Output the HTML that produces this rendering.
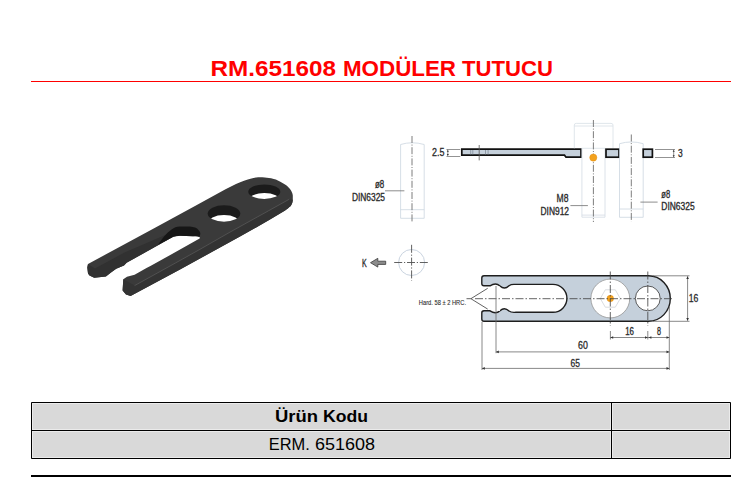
<!DOCTYPE html>
<html><head><meta charset="utf-8">
<style>
html,body{margin:0;padding:0;background:#fff;width:756px;height:502px;overflow:hidden;}
svg{position:absolute;left:0;top:0;}
text{font-family:"Liberation Sans",sans-serif;}
</style></head>
<body>
<svg width="756" height="502" viewBox="0 0 756 502">
<!-- title -->
<g font-size="21.5" font-weight="bold" fill="#ff0000">
<text x="210.5" y="76" textLength="125.5" lengthAdjust="spacingAndGlyphs">RM.651608</text>
<text x="343" y="76" textLength="113" lengthAdjust="spacingAndGlyphs">MODÜLER</text>
<text x="462" y="76" textLength="91" lengthAdjust="spacingAndGlyphs">TUTUCU</text>
</g>
<rect x="31" y="81" width="700" height="1" fill="#ff0000"/>

<!-- ===== part photo ===== -->
<g id="part">
<defs>
<clipPath id="h1"><ellipse cx="264.3" cy="191.7" rx="16" ry="7.3"/></clipPath>
<clipPath id="h2"><ellipse cx="224" cy="213.5" rx="16.3" ry="8.3"/></clipPath>
</defs>
<path fill="#3a3a3a" d="M88,263.9 L125,244.1 L154.6,228 L195,206 L225.5,189.3 L236,184 C241,181.5 245,180 253.5,177.9 C257,177.3 259,177.3 262.3,177.3 C266,177.5 268,177.8 271.1,178.3 C275,179.2 277,180 279.9,181.4 C283,183 285,184.2 286.9,185.8 C289,187.8 290.5,189.5 291.3,191.1 C292.2,193 292.6,194 292.8,195.4 L292.8,199.8 C292.6,202 292.3,203.5 291,205.5 C290,206.8 289,207.5 285.1,210.5 L270,219.6 L240,236.6 L200,258.5 L180,269.5 L130.6,296.1 L126,294.5 L122.6,290.6 L123.3,279.3 L127,276.8 L134.6,274.7 L146.5,268.1 L150.4,266.1 L199.6,238.6 C200.3,237.6 199.5,236.4 197,236 L193,236.2 L179.8,235.7 L173.2,236.8 L126.6,262.8 L124,265.4 L116.2,268.7 L111,272.6 L105.9,276.4 L94.2,277.7 L89.5,275.5 L88,273.5 L87.3,267.5 Z"/>
<path fill="#333" d="M134.6,285.6 L175.8,262.8 L200,249.3 L230,232.1 L268.3,210.9 L289.3,199.2 L292.8,199.8 C292.6,202 292.3,203.5 291,205.5 C290,206.8 289,207.5 285.1,210.5 L270,219.6 L240,236.6 L200,258.5 L180,269.5 L130.6,296.1 L126,294.5 L122.6,290.6 L123.3,279.3 Z"/>
<path fill="#313131" d="M95,268.5 L125,252.2 L175.2,230.7 L173.2,236.8 L126.6,262.8 L124,265.4 L116.2,268.7 L111,272.6 L105.9,276.4 L94.2,277.7 L89.5,275.5 L88,273.5 L87.3,267.5 L88,264 Z"/>
<path fill="#161616" d="M171.9,229.2 C174,227.8 176.5,226.8 179.8,226.6 L189.8,226.6 C194,227 197,228 198.4,229.9 C199.8,231.5 200.5,232.5 200.3,233.9 L199.5,237 C198.5,236.5 196,236.2 193,236.2 L179.8,235.7 C177,235.8 175,236.2 173.2,236.8 L158,244.8 C162,239 166,233 171.9,229.2 Z"/>
<path fill="none" stroke="#5c5c5c" stroke-width="0.7" d="M134.6,285.6 L175.8,262.8 L200,249.3 L230,232.1 L268.3,210.9 L289.3,199.2"/>
<ellipse cx="264.3" cy="191.7" rx="16" ry="7.3" fill="#1b1b1b"/>
<ellipse cx="264.3" cy="200.4" rx="16" ry="7.3" fill="#fff" clip-path="url(#h1)"/>
<ellipse cx="224" cy="213.5" rx="16.3" ry="8.3" fill="#1b1b1b"/>
<ellipse cx="224" cy="223.3" rx="16.3" ry="8.3" fill="#fff" clip-path="url(#h2)"/>
</g>

<!-- ===== technical drawing ===== -->
<g id="drawing" fill="none" stroke-width="0.8">
<!-- left pin -->
<path stroke="#ccd5df" d="M400.6,218.3 L400.6,144.5 Q412,141 424.2,144.5 L424.2,218.3 Z M400.6,209.7 L424.2,209.7"/>
<path stroke="#6e6e6e" stroke-width="0.9" stroke-dasharray="7,1.6,1,1.6" d="M412,136 L412,222"/>
<path stroke="#707070" d="M385,190.8 L404.4,190.8"/>
<!-- plate side view -->
<path fill="#c5d0db" stroke="#111" stroke-width="1.7" d="M461.8,149.2 L581,149.2 L581,157.2 L566,157.2 L564.5,155.2 L461.8,155.2 Z"/>
<path stroke="#7a8590" stroke-width="0.7" d="M470.7,150 L470.7,154.5 M472.8,150 L472.8,154.5 M485.5,150 L485.5,154.5 M488.1,150 L488.1,154.5"/>
<path stroke="#555" d="M479.2,145 L479.2,160.4"/>
<path stroke="#777" d="M446.5,149.5 L460.3,149.5 M446.5,156.5 L460.3,156.5 M447.8,151 L447.8,155"/>
<!-- screw -->
<path stroke="#d8dfe6" d="M574.3,148.3 L574.3,125 Q574.3,123.4 576.3,123.4 L611,123.4 Q613,123.4 613,125 L613,148.3 M574.3,126 L613,126 M581.7,148.3 L605,148.3"/>
<path stroke="#d3dbe3" d="M581.9,148.3 L581.9,217.2 L605,217.2 L605,148.3 M581.9,215.1 L605,215.1"/>
<path stroke="#6e6e6e" stroke-width="0.9" stroke-dasharray="7,1.6,1,1.6" d="M593.4,120 L593.4,222"/>
<circle cx="593.3" cy="157.6" r="3.6" fill="#f3a21e" stroke="#e08a10" stroke-width="0.4"/>
<path stroke="#707070" d="M570.4,205.6 L587.9,205.6"/>
<!-- right section block -->
<rect x="606" y="149.2" width="13" height="8" fill="#c5d0db" stroke="#111" stroke-width="1.7"/>
<!-- pin 2 -->
<path stroke="#ccd5df" d="M619.5,217.3 L619.5,143.7 Q631.3,140.2 643.2,143.7 L643.2,217.3 Z M619.5,209 L643.2,209"/>
<path stroke="#6e6e6e" stroke-width="0.9" stroke-dasharray="7,1.6,1,1.6" d="M631.3,134.5 L631.3,221.6"/>
<path stroke="#707070" d="M640.4,202.1 L657.6,202.1"/>
<!-- small section block -->
<rect x="643.2" y="149.2" width="9.2" height="8" fill="#c5d0db" stroke="#111" stroke-width="1.7"/>
<path stroke="#777" d="M655,149.5 L675,149.5 M655,157.5 L675,157.5 M673.7,151 L673.7,156"/>

<!-- K view -->
<path fill="#8c8c8c" stroke="#3a3a3a" stroke-width="0.8" d="M370.5,262.7 L377.8,258.3 L377.8,261.2 L385.7,261.2 L385.7,264.4 L377.8,264.4 L377.8,267.1 Z"/>
<circle cx="411.6" cy="262.5" r="13" stroke="#c3cedb" stroke-width="0.9"/>
<path stroke="#505050" stroke-width="0.9" stroke-dasharray="8,1.8,1.2,1.8" d="M394.2,262.5 L428.5,262.5 M411.6,244.8 L411.6,280.7"/>

<!-- plate top view -->
<path fill="#c5d0db" stroke="#1e1e1e" stroke-width="1.4" d="M484,275.8 L648.5,275.8 A21.8,22.75 0 0 1 648.5,321.3 L484,321.3 Q481.8,321.3 481.8,319 L481.8,312.8 Q481.8,311 484,310.8 L490,310.8 C494,313.5 497,313.5 500,310.7 C503,308 506,308 509,311 C511.5,312.8 513,312.3 516,312.3 L553,312.3 A13.95,13.95 0 0 0 553,284.4 L516,284.4 C513,284.4 511.5,283.9 509,285.7 C506,288.7 503,288.7 500,286 C497,283.2 494,283.2 490,285.8 L484,285.8 Q481.8,285.6 481.8,283.8 L481.8,278 Q481.8,275.8 484,275.8 Z"/>
<path fill="#fff" stroke="none" d="M470.9,298.7 L487.7,288.3 L500,286.5 L500,311 L487.7,309.1 Z"/>
<path stroke="#3a3a3a" stroke-width="0.8" d="M466.5,298.7 L470.9,298.7 L487.7,288.3 M470.9,298.7 L487.7,309.1"/>
<!-- holes -->
<circle cx="610.3" cy="298.5" r="19.4" fill="#fff" stroke="#8a8a8a" stroke-width="0.7"/>
<path stroke="#c8cdd2" stroke-width="0.7" d="M600.3,298.5 L605.3,289.8 L615.3,289.8 L620.3,298.5 L615.3,307.2 L605.3,307.2 Z"/>
<circle cx="610.3" cy="298.5" r="3.3" fill="#f3a21e" stroke="#e08a10" stroke-width="0.4"/>
<circle cx="647.8" cy="298.4" r="12.4" fill="#fff" stroke="#333" stroke-width="0.8"/>
<!-- center lines -->
<path stroke="#3e3e3e" stroke-width="0.8" stroke-dasharray="8,2,1.5,2" d="M475,298.7 L673.5,298.7"/>
<path stroke="#3e3e3e" stroke-width="0.8" stroke-dasharray="8,2,1.5,2" d="M610.3,271.5 L610.3,326 M647.8,271.5 L647.8,326"/>
<!-- dims -->
<path stroke="#6a6a6a" stroke-width="0.8" d="M482,322 L482,370 M496,286 L496,353.2 M669.3,307 L669.3,370 M610.4,331 L610.4,339.5 M647.8,331 L647.8,339.5 M496,351.9 L669.3,351.9 M482,368.4 L669.3,368.4 M610.4,337.5 L669.3,337.5 M653,275.8 L689.5,275.8 M653,321.3 L689.5,321.3 M687.6,276.3 L687.6,320.8"/>
<path fill="#333" stroke="none" d="M610.40,337.50 L613.20,336.20 L613.20,338.80 Z M647.80,337.50 L645.00,336.20 L645.00,338.80 Z M648.60,337.50 L651.40,336.20 L651.40,338.80 Z M669.30,337.50 L666.50,336.20 L666.50,338.80 Z M496.00,351.90 L498.80,350.60 L498.80,353.20 Z M669.30,351.90 L666.50,350.60 L666.50,353.20 Z M482.00,368.40 L484.80,367.10 L484.80,369.70 Z M669.30,368.40 L666.50,367.10 L666.50,369.70 Z M687.60,276.30 L686.30,279.10 L688.90,279.10 Z M687.60,320.80 L686.30,318.00 L688.90,318.00 Z M447.80,149.60 L446.80,151.80 L448.80,151.80 Z M447.80,156.20 L446.80,154.00 L448.80,154.00 Z M673.70,149.60 L672.70,151.80 L674.70,151.80 Z M673.70,157.50 L672.70,155.30 L674.70,155.30 Z"/>
</g>

<g font-family="Liberation Sans" fill="#2a2a2a" stroke="#2a2a2a" stroke-width="0.32">
<text x="432" y="156.3" font-size="11" textLength="12.4" lengthAdjust="spacingAndGlyphs">2.5</text>
<text x="677.9" y="157.1" font-size="11" textLength="4.7" lengthAdjust="spacingAndGlyphs">3</text>
<text x="375" y="187.9" font-size="10" textLength="9.3" lengthAdjust="spacingAndGlyphs">ø8</text>
<text x="351.9" y="201" font-size="10" textLength="33.1" lengthAdjust="spacingAndGlyphs">DIN6325</text>
<text x="556.5" y="201.8" font-size="11" textLength="11.9" lengthAdjust="spacingAndGlyphs">M8</text>
<text x="540.5" y="214.7" font-size="10" textLength="28.5" lengthAdjust="spacingAndGlyphs">DIN912</text>
<text x="661.3" y="197.8" font-size="10" textLength="8.9" lengthAdjust="spacingAndGlyphs">ø8</text>
<text x="661.3" y="210.3" font-size="10" textLength="33.4" lengthAdjust="spacingAndGlyphs">DIN6325</text>
<text x="361.9" y="266.5" font-size="10" textLength="4.7" lengthAdjust="spacingAndGlyphs">K</text>
<text x="418.8" y="304.5" font-size="7" stroke-width="0.1" textLength="47.2" lengthAdjust="spacingAndGlyphs">Hard. 58 ± 2 HRC.</text>
<text x="688.7" y="301.5" font-size="11" textLength="9.6" lengthAdjust="spacingAndGlyphs">16</text>
<text x="625.2" y="334.8" font-size="10" textLength="8.8" lengthAdjust="spacingAndGlyphs">16</text>
<text x="657" y="334.8" font-size="10" textLength="4" lengthAdjust="spacingAndGlyphs">8</text>
<text x="578" y="348.9" font-size="11" textLength="9.8" lengthAdjust="spacingAndGlyphs">60</text>
<text x="570.6" y="366.6" font-size="11" textLength="9.4" lengthAdjust="spacingAndGlyphs">65</text>
</g>

<!-- ===== table ===== -->
<rect x="31" y="402" width="700" height="57" fill="#d9d9d9"/>
<path fill="none" stroke="#ebebeb" stroke-width="1" d="M32,403.5 L611,403.5 M32,429.5 L611,429.5 M32,431.5 L611,431.5 M32,457.5 L611,457.5 M612,403.5 L730,403.5 M612,429.5 L730,429.5 M612,431.5 L730,431.5 M612,457.5 L730,457.5 M32.5,403 L32.5,458 M610.5,403 L610.5,458 M612.5,403 L612.5,458 M729.5,403 L729.5,458"/>
<path fill="none" stroke="#000" stroke-width="1" d="M31.5,402.5 L730.5,402.5 L730.5,458.5 L31.5,458.5 Z M31.5,430.5 L730.5,430.5 M611.5,402.5 L611.5,458.5"/>
<g font-size="16" fill="#000">
<text x="275" y="421.7" font-weight="bold" textLength="43" lengthAdjust="spacingAndGlyphs">Ürün</text>
<text x="323" y="421.7" font-weight="bold" textLength="45" lengthAdjust="spacingAndGlyphs">Kodu</text>
<text x="268.8" y="449.7" textLength="41" lengthAdjust="spacingAndGlyphs">ERM.</text>
<text x="315" y="449.7" textLength="60" lengthAdjust="spacingAndGlyphs">651608</text>
</g>
<rect x="31" y="475" width="700" height="2" fill="#000"/>
</svg>
</body></html>
